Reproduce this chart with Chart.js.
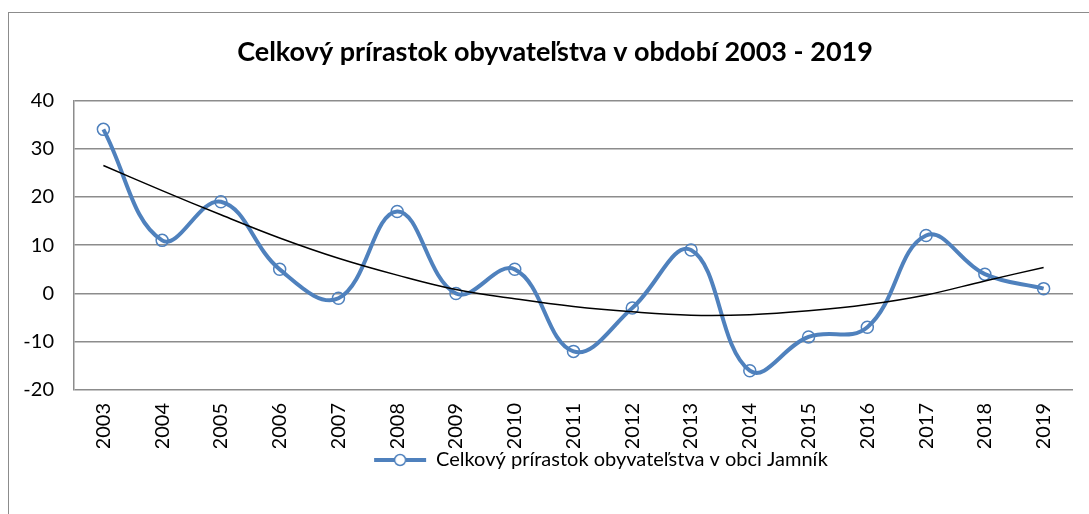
<!doctype html>
<html lang="sk">
<head>
    <meta charset="utf-8">
    <title>Celkový prírastok obyvateľstva</title>
    <script src="https://cdn.jsdelivr.net/npm/chart.js"></script>
    <style>
        body { margin: 0; background: #fff; overflow: hidden; }
        #frame { position: absolute; left: 8px; top: 12px; width: 1100px; height: 520px;
                 border: 1.5px solid #8c8c8c; box-sizing: border-box; }
        #myChart { position: absolute; left: 0; top: 0; }
    </style>
</head>
<body>
<div id="frame"></div>
<canvas id="myChart" width="1089" height="514"></canvas>

<script>
    const years = ['2003', '2004', '2005', '2006', '2007', '2008', '2009', '2010', '2011',
        '2012', '2013', '2014', '2015', '2016', '2017', '2018', '2019'];

    const prirastok = [34, 11, 19, 5, -1, 17, 0, 5, -12, -3, 9, -16, -9, -7, 12, 4, 1];

    // polynomial trend line
    const trend = [26.5, 21.3, 16.3, 11.5, 7.3, 3.8, 0.8, -1.1, -2.7, -3.8, -4.5, -4.4, -3.6, -2.3, -0.3, 2.6, 5.4];

    const yTicks = [-20, -10, 0, 10, 20, 30, 40];

    const blue = '#4f81bd';
    const fontName = 'Lato, "Open Sans", sans-serif';

    // legend symbol: line with a hollow circle
    const sym = document.createElement('canvas');
    sym.width = 54;
    sym.height = 16;
    const sc = sym.getContext('2d');
    sc.strokeStyle = blue;
    sc.lineWidth = 4;
    sc.beginPath();
    sc.moveTo(1, 8);
    sc.lineTo(53, 8);
    sc.stroke();
    sc.fillStyle = '#fff';
    sc.lineWidth = 1.5;
    sc.beginPath();
    sc.arc(27, 8, 5.5, 0, Math.PI * 2);
    sc.fill();
    sc.stroke();

    // excel centres title and legend on the frame, not on the canvas
    const nudge = {
        id: 'nudge',
        afterLayout(chart) {
            chart.titleBlock.left += 37;
            chart.legend.left += 129;
        }
    };

    const data = {
        labels: years,
        datasets: [{
            label: 'Celkový prírastok obyvateľstva v obci Jamník',
            data: prirastok,
            borderColor: blue,
            borderWidth: 4,
            tension: 0.4,
            pointStyle: 'circle',
            pointRadius: 6,
            pointBorderWidth: 1.5,
            pointBorderColor: blue,
            pointBackgroundColor: 'rgba(255,255,255,0)',
            order: 1
        }, {
            label: 'trend',
            data: trend,
            borderColor: '#000',
            borderWidth: 1.5,
            tension: 0.4,
            pointRadius: 0,
            order: 0
        }]
    };

    const config = {
        type: 'line',
        data: data,
        plugins: [nudge],
        options: {
            responsive: false,
            animation: false,
            layout: {padding: {left: 0, right: 16, top: 0, bottom: 34}},
            plugins: {
                title: {
                    display: true,
                    text: 'Celkový prírastok obyvateľstva v období 2003 - 2019',
                    color: '#000',
                    font: {family: fontName, size: 27, weight: 'bold'},
                    padding: {top: 36, bottom: 32}
                },
                legend: {
                    position: 'bottom',
                    labels: {
                        usePointStyle: true,
                        pointStyle: sym,
                        pointStyleWidth: 52,
                        padding: 2,
                        color: '#000',
                        font: {family: fontName, size: 20},
                        generateLabels: function (chart) {
                            return [{
                                text: chart.data.datasets[0].label,
                                pointStyle: sym,
                                datasetIndex: 0,
                                fillStyle: blue,
                                strokeStyle: blue,
                                lineWidth: 0,
                                fontColor: '#000'
                            }];
                        }
                    }
                },
                tooltip: {enabled: false}
            },
            scales: {
                x: {
                    offset: true,
                    grid: {display: false, drawTicks: false},
                    border: {display: false},
                    ticks: {
                        color: '#000',
                        maxRotation: 90,
                        minRotation: 90,
                        padding: 13,
                        font: {family: fontName, size: 20}
                    },
                    afterFit: function (scale) {
                        scale.height = 58;
                    }
                },
                y: {
                    min: -20,
                    max: 40,
                    afterBuildTicks: function (scale) {
                        scale.ticks = yTicks.map(v => ({value: v}));
                    },
                    grid: {color: '#8c8c8c', lineWidth: 1.5, drawTicks: false},
                    border: {display: true, color: '#8c8c8c', width: 1.5},
                    ticks: {
                        color: '#000',
                        padding: 20,
                        font: {family: fontName, size: 20}
                    },
                    afterFit: function (scale) {
                        scale.width = 74;
                    }
                }
            }
        }
    };

    const myChart = new Chart(document.getElementById('myChart'), config);
</script>
</body>
</html>
